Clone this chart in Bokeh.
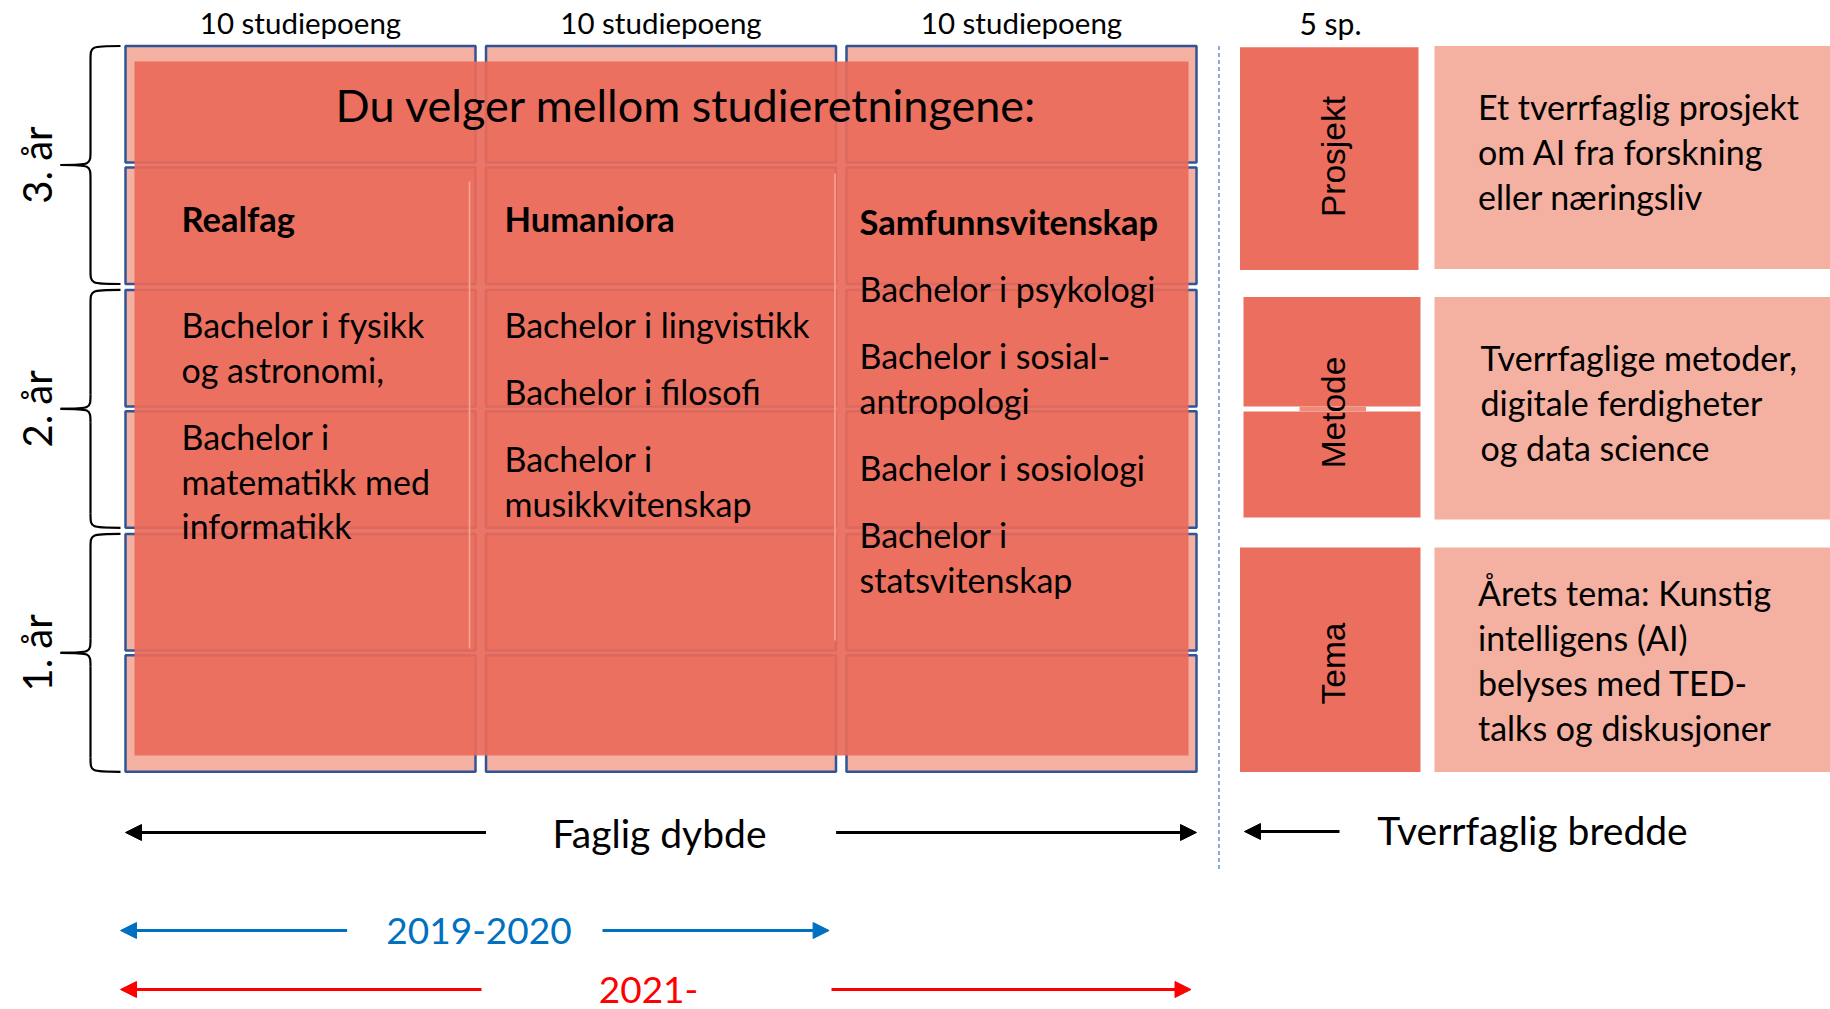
import numpy as np
from bokeh.plotting import figure
from bokeh.models import Range1d, Arrow, NormalHead
from bokeh.core.properties import value
from bokeh.embed import file_html
from bokeh.resources import INLINE

# ---------------- content ----------------
credit_labels = ["10 studiepoeng", "10 studiepoeng", "10 studiepoeng"]
side_credit_label = "5 sp."
year_labels = ["3. år", "2. år", "1. år"]
title_text = "Du velger mellom studieretningene:"
directions = ["Realfag", "Humaniora", "Samfunnsvitenskap"]
realfag_programs = [["Bachelor i fysikk", "og astronomi,"],
                    ["Bachelor i", "matematikk med", "informatikk"]]
humaniora_programs = [["Bachelor i lingvistikk"], ["Bachelor i filosofi"],
                      ["Bachelor i", "musikkvitenskap"]]
samfunn_programs = [["Bachelor i psykologi"], ["Bachelor i sosial-", "antropologi"],
                    ["Bachelor i sosiologi"], ["Bachelor i", "statsvitenskap"]]
module_names = ["Prosjekt", "Metode", "Tema"]
module_descriptions = [
    ["Et tverrfaglig prosjekt", "om AI fra forskning", "eller næringsliv"],
    ["Tverrfaglige metoder,", "digitale ferdigheter", "og data science"],
    ["Årets tema: Kunstig", "intelligens (AI)", "belyses med TED-", "talks og diskusjoner"],
]
depth_label = "Faglig dybde"
breadth_label = "Tverrfaglig bredde"
period_labels = ["2019-2020", "2021-"]

# ---------------- layout / style ----------------
FONT = "Lato"
SIDE_FONT = "Liberation Sans"
LIGHT = "#F4B0A0"
DARK = "#EB6E5E"
BLUE_EDGE = "#2F5597"
BODY = "34px"

col_x0 = [125, 485.5, 846]
col_w = 350
row_y0 = [45.5, 167, 289.4, 410.8, 533.4, 654.8]
row_h = 116.5

W, H = 1830, 1009
p = figure(width=W, height=H, x_range=Range1d(0, W), y_range=Range1d(H, 0),
           output_backend="svg", toolbar_location=None, min_border=0)
p.axis.visible = False
p.grid.visible = False
p.outline_line_color = None
p.background_fill_color = "white"
p.border_fill_color = "white"

# grid cells (3 columns x 6 half-year rows)
cx, cy = [], []
for x0 in col_x0:
    for y0 in row_y0:
        cx.append(x0 + col_w / 2)
        cy.append(y0 + row_h / 2)
p.rect(x=cx, y=cy, width=col_w, height=row_h, fill_color=LIGHT,
       line_color=BLUE_EDGE, line_width=2.5)

# big overlay
ov_l, ov_t, ov_r, ov_b = 134, 61, 1188, 755
p.quad(left=[ov_l], right=[ov_r], top=[ov_t], bottom=[ov_b],
       fill_color="#EA6A5A", fill_alpha=0.93, line_color=None)

# faint separators inside overlay
p.segment(x0=[469, 834.5], y0=[181, 173], x1=[469, 834.5], y1=[648, 640],
          line_color="#F7A898", line_width=1.5)

# top labels
p.text(x=[x0 + col_w / 2 for x0 in col_x0], y=[22] * 3, text=credit_labels,
       text_font=value(FONT), text_font_size=value("29.5px"), text_align="center",
       text_baseline="middle", text_color="black")
p.text(x=[1330], y=[22], text=[side_credit_label], text_font=value(FONT),
       text_font_size=value("30px"), text_align="center", text_baseline="middle",
       text_color="black")

# title
p.text(x=[686], y=[104], text=[title_text], text_font=value(FONT),
       text_font_size=value("45px"), text_align="center", text_baseline="middle",
       text_color="black")

# direction headers
text_x = [181, 504, 859]
p.text(x=text_x, y=[218, 218, 221], text=directions, text_font=value(FONT),
       text_font_size=value("34.5px"), text_font_style="bold", text_align="left",
       text_baseline="middle", text_color="black")

LINE = 44.7
PARA = 22.5


def layout_items(items, x, y_start):
    xs, ys, ts = [], [], []
    y = y_start
    for item in items:
        for line in item:
            xs.append(x)
            ys.append(y)
            ts.append(line)
            y += LINE
        y += PARA
    return xs, ys, ts


for items, x, y0 in [(realfag_programs, text_x[0], 324),
                      (humaniora_programs, text_x[1], 324),
                      (samfunn_programs, text_x[2], 288)]:
    xs, ys, ts = layout_items(items, x, y0)
    p.text(x=xs, y=ys, text=ts, text_font=value(FONT), text_font_size=value(BODY),
           text_align="left", text_baseline="middle", text_color="black")

# braces + year labels
group_tops = [row_y0[0], row_y0[2], row_y0[4]]
group_bots = [row_y0[1] + row_h, row_y0[3] + row_h, row_y0[5] + row_h]
xr, xs_, xt, r = 120, 90, 60, 14
bx0, by0, bx1, by1, bcx0, bcy0, bcx1, bcy1 = [], [], [], [], [], [], [], []
sx0, sy0, sx1, sy1 = [], [], [], []
mids = []
for yt, yb in zip(group_tops, group_bots):
    ym = (yt + yb) / 2
    mids.append(ym)
    curves = [((xr, yt), (xs_, yt + r), (xs_, yt)),
              ((xs_, ym - r), (xt, ym), (xs_, ym)),
              ((xt, ym), (xs_, ym + r), (xs_, ym)),
              ((xs_, yb - r), (xr, yb), (xs_, yb))]
    for (a, b, c) in curves:
        bx0.append(a[0]); by0.append(a[1]); bx1.append(b[0]); by1.append(b[1])
        bcx0.append(c[0]); bcy0.append(c[1]); bcx1.append(c[0]); bcy1.append(c[1])
    sx0 += [xs_, xs_]; sy0 += [yt + r, ym + r]; sx1 += [xs_, xs_]; sy1 += [ym - r, yb - r]
p.bezier(x0=bx0, y0=by0, x1=bx1, y1=by1, cx0=bcx0, cy0=bcy0, cx1=bcx1, cy1=bcy1,
         line_color="black", line_width=2.2)
p.segment(x0=sx0, y0=sy0, x1=sx1, y1=sy1, line_color="black", line_width=2.2)
p.text(x=[36] * 3, y=mids, text=year_labels, text_font=value(FONT),
       text_font_size=value("40px"), text_align="center", text_baseline="middle",
       angle=np.pi / 2, text_color="black")

# dashed divider
p.segment(x0=[1218.5], y0=[45.5], x1=[1218.5], y1=[869], line_color="#4472C4",
          line_width=1.2, line_dash="4 3")

# right-side modules
mod_tops = [46.7, 296.5, 547]
mod_bots = [269.6, 517, 771.5]
mod_l = [1239.5, 1243, 1239.5]
mod_r = [1418, 1420, 1420]
# Metode box is split in two with a small gap
p.quad(left=[mod_l[0], mod_l[1], mod_l[1], mod_l[2]],
       right=[mod_r[0], mod_r[1], mod_r[1], mod_r[2]],
       top=[mod_tops[0], mod_tops[1], 411, mod_tops[2]],
       bottom=[mod_bots[0], 406, mod_bots[1], mod_bots[2]],
       fill_color=DARK, line_color=None)
p.quad(left=[1299], right=[1365.5], top=[406], bottom=[411], fill_color="#F08A7B",
       line_color=None)
p.quad(left=[1434] * 3, right=[1830] * 3, top=[45.5, 296.5, 547],
       bottom=[268.5, 519, 771.5], fill_color=LIGHT, line_color=None)
p.text(x=[1333] * 3, y=[156, 412, 663], text=module_names, text_font=value(SIDE_FONT),
       text_font_size=value("33.5px"), text_align="center", text_baseline="middle",
       angle=np.pi / 2, text_color="black")
desc_x = [1477.5, 1480, 1477.5]
desc_y0 = [106, 357, 592]
dx, dy, dt = [], [], []
for lines, x, y0 in zip(module_descriptions, desc_x, desc_y0):
    for i, line in enumerate(lines):
        dx.append(x); dy.append(y0 + i * 45); dt.append(line)
p.text(x=dx, y=dy, text=dt, text_font=value(FONT), text_font_size=value(BODY),
       text_align="left", text_baseline="middle", text_color="black")


# arrows
def arrow(x_from, x_to, y, color):
    p.add_layout(Arrow(end=NormalHead(size=16, fill_color=color, line_color=color),
                       x_start=x_from, y_start=y, x_end=x_to, y_end=y,
                       line_color=color, line_width=3))


arrow(485.5, 125, 832, "black")
arrow(835.6, 1196, 832, "black")
arrow(1339, 1244, 831, "black")
p.text(x=[659], y=[832], text=[depth_label], text_font=value(FONT),
       text_font_size=value("39px"), text_align="center", text_baseline="middle",
       text_color="black")
p.text(x=[1532], y=[829], text=[breadth_label], text_font=value(FONT),
       text_font_size=value("39px"), text_align="center", text_baseline="middle",
       text_color="black")

period_colors = ["#0070C0", "#FF0000"]
period_y = [930, 989]
period_left = [(346.6, 120), (481, 120)]
period_right = [(602, 828.6), (831, 1190.5)]
period_text_x = [478.5, 648]
for lab, col, y, (a0, a1), (b0, b1), tx in zip(period_labels, period_colors, period_y,
                                                 period_left, period_right, period_text_x):
    arrow(a0, a1, y, col)
    arrow(b0, b1, y, col)
    p.text(x=[tx], y=[y], text=[lab], text_font=value(FONT), text_font_size=value("37px"),
           text_align="center", text_baseline="middle", text_color=col)

open("out.html", "w").write(file_html(p, INLINE))
